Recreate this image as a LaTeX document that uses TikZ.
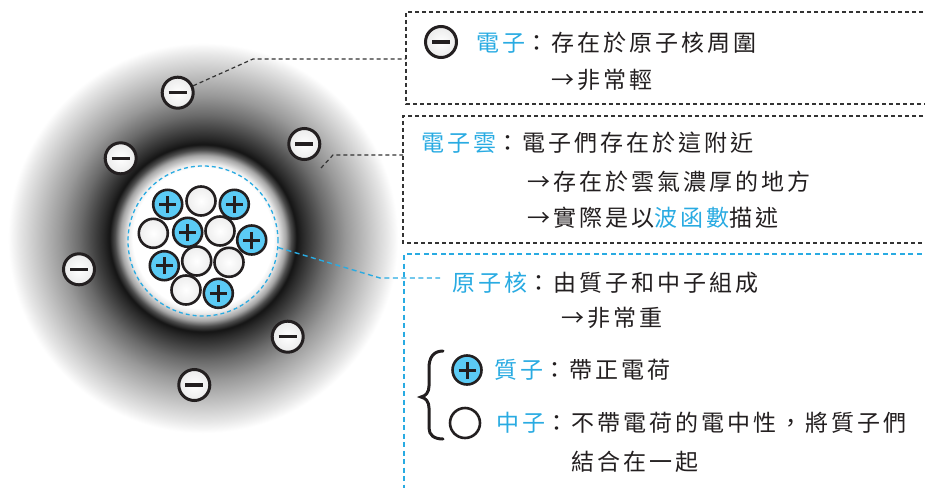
\documentclass[tikz,border=0pt]{standalone}
\usepackage{fontspec}
\newfontfamily\cjk[LetterSpace=13]{Noto Sans CJK TC}
\definecolor{sky}{HTML}{29ABE2}
\definecolor{protonfill}{HTML}{5BCBF5}
\definecolor{ink}{HTML}{231F20}

% electron cloud: white core, dark shell, fading to white at the rim
\pgfdeclareradialshading{cloud}{\pgfpoint{0bp}{0bp}}{%
  rgb(0bp)=(1,1,1); rgb(9bp)=(1,1,1); rgb(9.6bp)=(0.93,0.93,0.93);
  rgb(10.6bp)=(0.65,0.65,0.65); rgb(11.3bp)=(0.3,0.3,0.3);
  rgb(12bp)=(0.08,0.08,0.08); rgb(12.8bp)=(0.16,0.16,0.16);
  rgb(15.8bp)=(0.42,0.42,0.42); rgb(18.3bp)=(0.6,0.6,0.6);
  rgb(20.9bp)=(0.75,0.75,0.75); rgb(23.5bp)=(0.9,0.9,0.9);
  rgb(25bp)=(1,1,1); rgb(50bp)=(1,1,1)}

\tikzset{
  electron/.style={circle, draw=ink, line width=3pt, minimum size=31pt, inner sep=0pt,
    inner color=white, outer color=black!8,
    path picture={\draw[ink, line width=3.3pt]
      ([xshift=-9pt]path picture bounding box.center) -- ([xshift=9pt]path picture bounding box.center);}},
  neutron/.style={circle, draw=ink, line width=2.6pt, minimum size=29pt, inner sep=0pt,
    inner color=white, outer color=black!7},
  proton/.style={circle, draw=ink, line width=2.6pt, minimum size=29pt, inner sep=0pt,
    fill=protonfill,
    path picture={\draw[ink, line width=3pt]
      ([xshift=-8.5pt]path picture bounding box.center) -- ([xshift=8.5pt]path picture bounding box.center)
      ([yshift=-8.5pt]path picture bounding box.center) -- ([yshift=8.5pt]path picture bounding box.center);}},
  plainneutron/.style={circle, draw=ink, line width=2.6pt, minimum size=30pt, inner sep=0pt, fill=white},
  leader/.style={draw=black!80, line width=1.2pt, dash pattern=on 4pt off 3pt},
  bluelead/.style={draw=sky, line width=1.4pt, dash pattern=on 5pt off 3.5pt},
  txt/.style={anchor=west, inner sep=0pt, font=\cjk\fontsize{23}{23}\selectfont, text=ink},
}

\begin{document}
\begin{tikzpicture}[x=1pt, y=-1pt]
\useasboundingbox (0,0) rectangle (925,487);
\fill[white] (0,0) rectangle (925,487);
\clip (0,0) rectangle (925,487);

% cloud
\node[circle, minimum size=390pt, inner sep=0pt, shading=cloud] (cloud) at (203,238) {};
% nucleus outline
\node[circle, draw=sky, line width=1.3pt, dash pattern=on 4pt off 3pt, minimum size=150pt, inner sep=0pt] (nuc) at (203,241) {};

% neutrons
\node[neutron] (n1) at (201,201) {};
\node[neutron] (n2) at (153.3,233.3) {};
\node[neutron] (n3) at (220,231) {};
\node[neutron] (n4) at (196.7,261) {};
\node[neutron] (n5) at (229,262.3) {};
\node[neutron] (n6) at (186,290) {};
% protons
\node[proton] (p1) at (167.7,204.3) {};
\node[proton] (p2) at (234.3,204.3) {};
\node[proton] (p3) at (187.7,232.3) {};
\node[proton] (p4) at (251.7,240) {};
\node[proton] (p5) at (164.3,265.7) {};
\node[proton] (p6) at (218.3,293.3) {};

% electrons
\node[electron] (e1) at (177.7,92.7) {};
\node[electron] (e2) at (120.7,158.3) {};
\node[electron] (e3) at (304.3,144) {};
\node[electron] (e4) at (79,269.3) {};
\node[electron] (e5) at (287.7,336.7) {};
\node[electron] (e6) at (194.3,385) {};

% boxes
\coordinate (b1) at (406,59);
\draw[leader] (930,12) -- (406,12) -- (406,104) -- (930,104);
\draw[leader] (930,116) -- (403,116) -- (403,243) -- (930,243);
\draw[bluelead] (930,254) -- (404,254) -- (404,495);

% leaders
\coordinate (k1) at (253,59);
\draw[leader] (e1) -- (k1) -- (b1);
\coordinate (c2) at (321,168);
\coordinate (k2) at (333,155);
\coordinate (b2) at (403,155);
\draw[leader] (c2) -- (k2) -- (b2);
\coordinate (k3) at (380,278);
\coordinate (t3) at (440,278);
\draw[bluelead] (nuc.-5) -- (k3) -- (t3);

% legend icons
\node[electron] (le) at (441,42) {};
\node[proton] (lp) at (467,370) {};
\node[plainneutron] (ln) at (465,423) {};
\draw[ink, line width=3pt, line cap=round] (443,351) .. controls (433,351) and (429,358) .. (429,368) -- (429,386)
  .. controls (429,392) and (426,396) .. (421,397) .. controls (426,398) and (429,402) .. (429,408)
  -- (429,428) .. controls (429,435) and (434,439) .. (443,439);

% texts
\node[txt] (t1a) at (476,43) {{\color{sky}電子}：存在於原子核周圍};
\node[txt] (t1b) at (551,80) {→非常輕};
\node[txt] (t2a) at (421,143) {{\color{sky}電子雲}：電子們存在於這附近};
\node[txt] (t2b) at (527,182) {→存在於雲氣濃厚的地方};
\node[txt] (t2c) at (527,218) {→實際是以{\color{sky}波函數}描述};
\node[txt] (t3a) at (452,283) {{\color{sky}原子核}：由質子和中子組成};
\node[txt] (t3b) at (561,318) {→非常重};
\node[txt] (t4a) at (494,370) {{\color{sky}質子}：帶正電荷};
\node[txt] (t5a) at (496,423) {{\color{sky}中子}：不帶電荷的電中性，將質子們};
\node[txt] (t5b) at (571,462) {結合在一起};
\end{tikzpicture}
\end{document}
